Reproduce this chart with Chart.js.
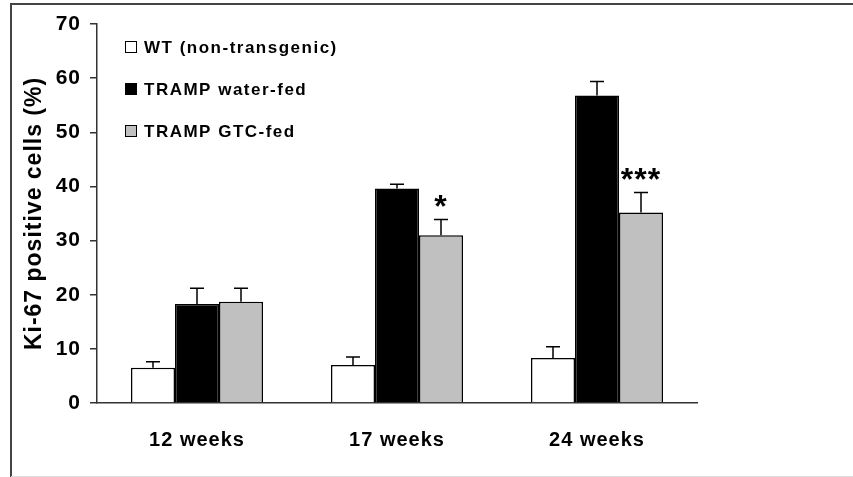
<!DOCTYPE html>
<html>
<head>
<meta charset="utf-8">
<script src="https://cdn.jsdelivr.net/npm/chart.js@4"></script>
<style>
  html, body { margin: 0; padding: 0; background: #fff; }
  #wrap { width: 853px; height: 477px; }
</style>
</head>
<body>
<div id="wrap"><canvas id="ki67Chart" width="853" height="477"></canvas></div>
<script>
// categories and values
const weeks = ['12 weeks', '17 weeks', '24 weeks'];
const wtValues = [6.5, 7.0, 8.3];
const wtErrors = [1.1, 1.5, 2.1];
const waterValues = [18.3, 39.6, 56.8];
const waterErrors = [2.9, 0.8, 2.6];
const gtcValues = [18.7, 31.0, 35.2];
const gtcErrors = [2.5, 2.9, 3.7];
const gtcStars = ['', '*', '***'];
const yTicks = [0, 10, 20, 30, 40, 50, 60, 70];

const FONT = 'Arial, "Liberation Sans", sans-serif';

// frame round the figure, and the slightly spread lettering of the original
const framePlugin = {
    id: 'frame',
    beforeDraw(chart) {
        const ctx = chart.ctx;
        ctx.letterSpacing = '1px';
        ctx.save();
        ctx.strokeStyle = '#444';
        ctx.lineWidth = 2;
        ctx.beginPath();
        ctx.moveTo(11, 477);
        ctx.lineTo(11, 4);
        ctx.lineTo(853, 4);
        ctx.stroke();
        ctx.strokeStyle = '#ddd';
        ctx.lineWidth = 1;
        ctx.beginPath();
        ctx.moveTo(11, 476.5);
        ctx.lineTo(853, 476.5);
        ctx.stroke();
        ctx.restore();
    }
};

// upper error bars, stars and the legend
const errorPlugin = {
    id: 'errorBars',
    afterDatasetsDraw(chart) {
        const ctx = chart.ctx;
        const y = chart.scales.y;
        ctx.save();
        ctx.strokeStyle = '#000';
        ctx.lineWidth = 1.5;
        chart.data.datasets.forEach((ds, i) => {
            const meta = chart.getDatasetMeta(i);
            meta.data.forEach((bar, j) => {
                const top = y.getPixelForValue(ds.data[j] + ds.errors[j]);
                ctx.beginPath();
                ctx.moveTo(bar.x, bar.y);
                ctx.lineTo(bar.x, top);
                ctx.moveTo(bar.x - 7, top);
                ctx.lineTo(bar.x + 7, top);
                ctx.stroke();
            });
        });

        // stars above the GTC bars
        const gtcMeta = chart.getDatasetMeta(2);
        ctx.fillStyle = '#000';
        ctx.font = 'bold 32px ' + FONT;
        ctx.textAlign = 'center';
        ctx.textBaseline = 'alphabetic';
        gtcMeta.data.forEach((bar, j) => {
            if (!gtcStars[j]) return;
            const top = y.getPixelForValue(gtcValues[j] + gtcErrors[j]);
            ctx.fillText(gtcStars[j], bar.x, top - 2);
        });

        // legend
        ctx.font = 'bold 17px ' + FONT;
        ctx.letterSpacing = '1.5px';
        ctx.textAlign = 'left';
        ctx.textBaseline = 'middle';
        const rows = [47, 89, 131];
        chart.data.datasets.forEach((ds, i) => {
            ctx.fillStyle = ds.backgroundColor;
            ctx.fillRect(125.5, rows[i] - 5.5, 11, 11);
            ctx.lineWidth = 1;
            ctx.strokeStyle = '#000';
            ctx.strokeRect(125.5, rows[i] - 5.5, 11, 11);
            ctx.fillStyle = '#000';
            ctx.fillText(ds.label, 144, rows[i] + 1);
        });
        ctx.restore();
    }
};

const ctx = document.getElementById('ki67Chart').getContext('2d');
const ki67Chart = new Chart(ctx, {
    type: 'bar',
    data: {
        labels: weeks,
        datasets: [{
            label: 'WT (non-transgenic)',
            data: wtValues,
            errors: wtErrors,
            backgroundColor: '#ffffff',
            borderColor: '#000',
            borderWidth: 1.5
        }, {
            label: 'TRAMP water-fed',
            data: waterValues,
            errors: waterErrors,
            backgroundColor: '#000000',
            borderColor: '#000',
            borderWidth: 1.5
        }, {
            label: 'TRAMP GTC-fed',
            data: gtcValues,
            errors: gtcErrors,
            backgroundColor: '#c0c0c0',
            borderColor: '#000',
            borderWidth: 1.5
        }]
    },
    options: {
        responsive: false,
        animation: false,
        layout: { padding: { left: 11, top: 24, right: 156, bottom: 0 } },
        datasets: { bar: { barPercentage: 1, categoryPercentage: 0.66 } },
        plugins: {
            legend: { display: false },
            tooltip: { enabled: false }
        },
        scales: {
            x: {
                grid: { display: false, drawTicks: false },
                border: { color: '#333', width: 1.5 },
                ticks: {
                    color: '#000',
                    padding: 25,
                    font: { family: FONT, size: 20, weight: 'bold' }
                },
                afterFit(scale) { scale.height = 74; }
            },
            y: {
                min: 0,
                max: 70,
                afterBuildTicks(scale) { scale.ticks = yTicks.map(v => ({ value: v })); },
                grid: { drawOnChartArea: false, tickLength: 7, color: '#333', lineWidth: 1.5 },
                border: { color: '#333', width: 1.5 },
                ticks: {
                    color: '#000',
                    padding: 9,
                    font: { family: FONT, size: 21, weight: 'bold' }
                },
                title: {
                    display: true,
                    text: 'Ki-67 positive cells (%)',
                    color: '#000',
                    padding: { top: 10, bottom: 2 },
                    font: { family: FONT, size: 23, weight: 'bold' }
                },
                afterFit(scale) { scale.width = 86; }
            }
        }
    },
    plugins: [framePlugin, errorPlugin]
});
</script>
</body>
</html>
